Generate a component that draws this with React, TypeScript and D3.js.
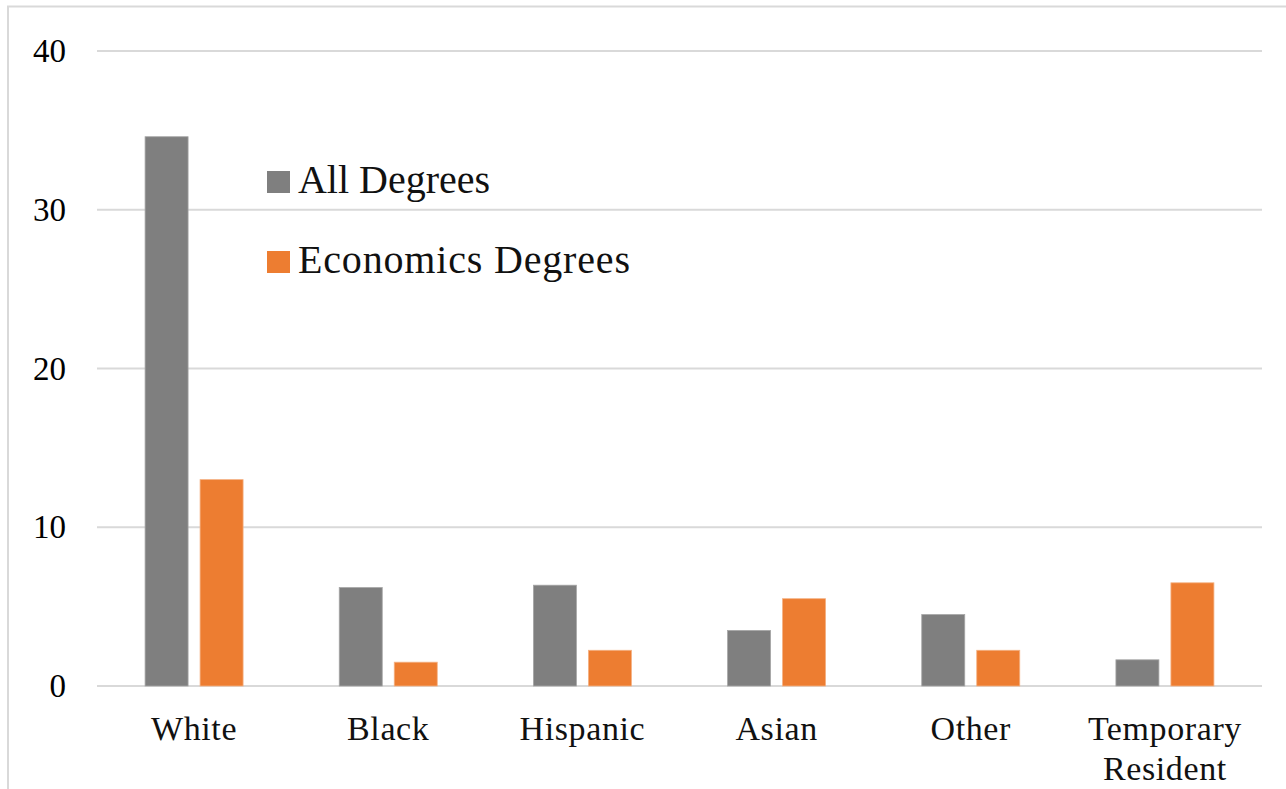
import React from "react";
import * as d3 from "d3";

const categories: string[][] = [["White"], ["Black"], ["Hispanic"], ["Asian"], ["Other"], ["Temporary", "Resident"]];
const allDegrees: number[] = [34.6, 6.2, 6.35, 3.5, 4.5, 1.65];
const econDegrees: number[] = [13.0, 1.5, 2.25, 5.5, 2.25, 6.5];
const yTicks: number[] = [0, 10, 20, 30, 40];
const seriesNames: string[] = ["All Degrees", "Economics Degrees"];
const seriesColors: string[] = ["#7f7f7f", "#ed7d31"];

const W = 1286;
const H = 789;
const plotLeft = 97;
const plotRight = 1262;
const FONT = "'Liberation Serif', 'DejaVu Serif', serif";
const legendWidths = [192, 332];

export default function App() {
  const keys = categories.map((c) => c.join(" "));
  const x = d3.scaleBand<string>().domain(keys).range([plotLeft, plotRight]).paddingInner(0).paddingOuter(0);
  const y = d3.scaleLinear().domain([0, 40]).range([686, 51]);
  const bw = 43;
  const gap = 12;
  const series = [allDegrees, econDegrees];

  return (
    <svg width={W} height={H} style={{ position: "absolute", left: 0, top: 0, background: "#fff" }} fontFamily={FONT}>
      <rect x={8} y={6.5} width={W + 20} height={H + 20} fill="#fff" stroke="#d9d9d9" strokeWidth={2} />
      {yTicks.map((t) => (
        <g key={t}>
          <line x1={plotLeft} x2={plotRight} y1={y(t)} y2={y(t)} stroke="#d9d9d9" strokeWidth={2} />
          <text x={66} y={y(t) + 11} textAnchor="end" fontSize={33} fill="#000">
            {t}
          </text>
        </g>
      ))}
      {keys.map((k, i) => {
        const cx = (x(k) as number) + x.bandwidth() / 2;
        return (
          <g key={k}>
            {series.map((s, si) => {
              const bx = si === 0 ? cx - gap / 2 - bw : cx + gap / 2;
              return (
                <rect
                  key={si}
                  x={bx}
                  y={y(s[i])}
                  width={bw}
                  height={y(0) - y(s[i])}
                  fill={seriesColors[si]}
                  stroke={si === 0 ? "#a6a6a6" : "#f4b183"}
                  strokeWidth={0.8}
                />
              );
            })}
            {categories[i].map((line, li) => (
              <text key={li} x={cx} y={740 + li * 40} textAnchor="middle" fontSize={34} letterSpacing={0.6} fill="#111">
                {line}
              </text>
            ))}
          </g>
        );
      })}
      {seriesNames.map((n, i) => (
        <g key={n}>
          <rect x={267} y={171 + i * 80} width={23} height={22} fill={seriesColors[i]} />
          <text
            x={298}
            y={193 + i * 80}
            fontSize={40}
            fill="#111"
            textLength={legendWidths[i]}
            lengthAdjust="spacing"
          >
            {n}
          </text>
        </g>
      ))}
    </svg>
  );
}
